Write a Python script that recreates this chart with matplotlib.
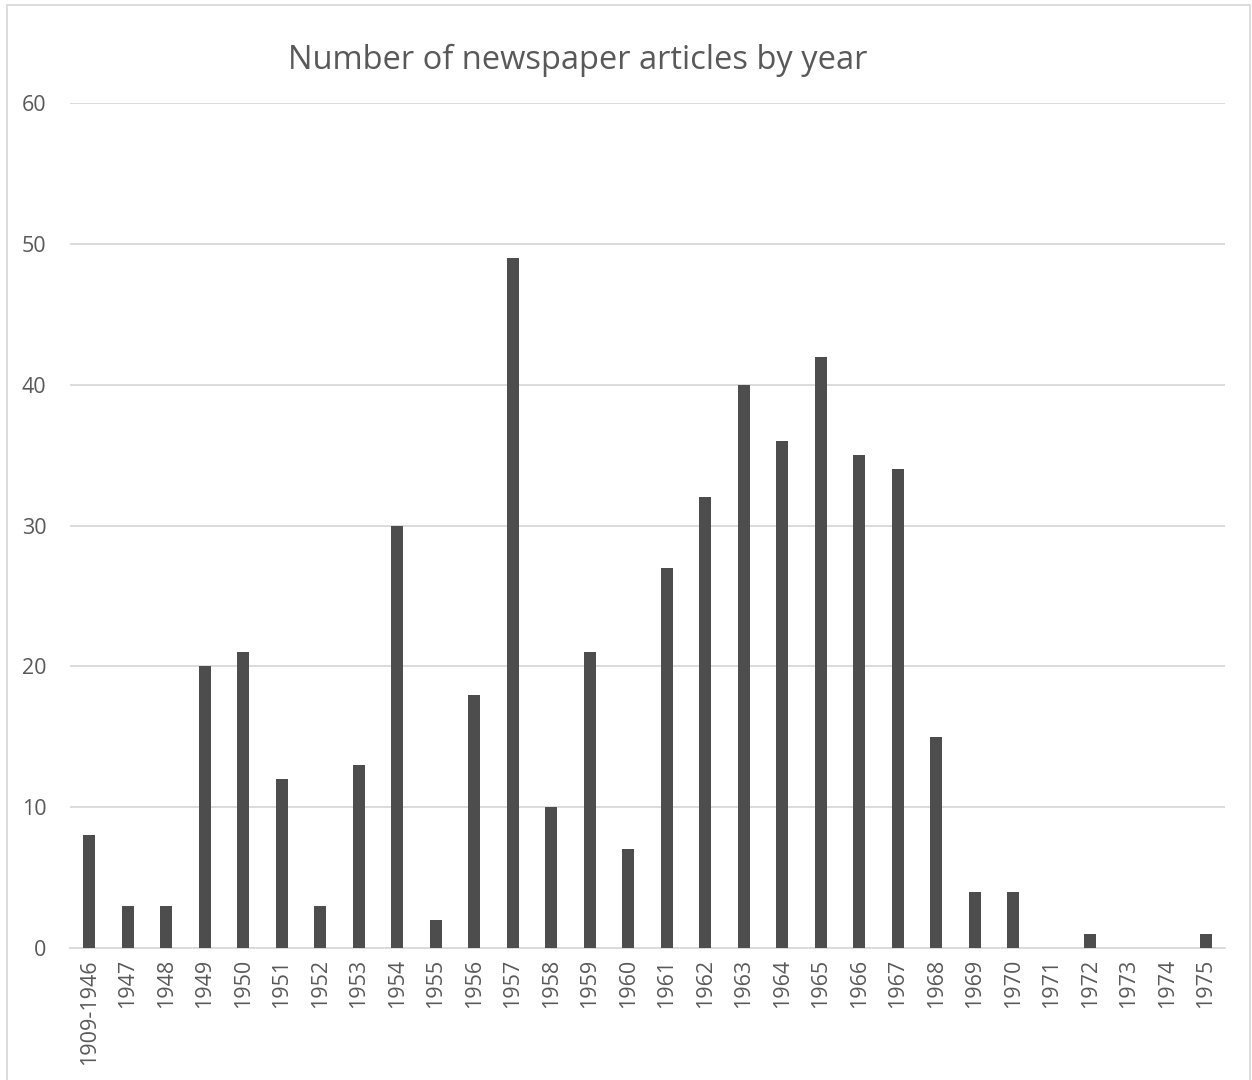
import matplotlib.pyplot as plt
from matplotlib.patches import Rectangle

plt.rcParams['font.family'] = ['Open Sans', 'DejaVu Sans']

# Dados
anos = ['1909-1946', '1947', '1948', '1949', '1950', '1951', '1952', '1953',
        '1954', '1955', '1956', '1957', '1958', '1959', '1960', '1961', '1962',
        '1963', '1964', '1965', '1966', '1967', '1968', '1969', '1970', '1971',
        '1972', '1973', '1974', '1975']
artigos = [8, 3, 3, 20, 21, 12, 3, 13, 30, 2, 18, 49, 10, 21, 7, 27, 32,
           40, 36, 42, 35, 34, 15, 4, 4, 0, 1, 0, 0, 1]
yticks = [0, 10, 20, 30, 40, 50, 60]

fig = plt.figure(figsize=(12.52, 10.8), dpi=100)
ax = fig.add_axes([70 / 1252, 1 - 948 / 1080, 1155 / 1252, 845 / 1080])

x = range(len(anos))
ax.bar(x, artigos, width=0.31, color='#4d4d4d', zorder=3)

ax.set_xlim(-0.5, len(anos) - 0.5)
ax.set_ylim(0, 60)
ax.set_yticks(yticks)
ax.set_xticks(list(x))
ax.set_xticklabels(anos, rotation=90, fontsize=15.5, color='#595959')
ax.tick_params(axis='y', labelsize=15.5, labelcolor='#595959', length=0, pad=17)
ax.tick_params(axis='x', length=0, pad=8)
ax.grid(axis='y', color='#d9d9d9', linewidth=1.3, zorder=0)
for s in ['top', 'right', 'left']:
    ax.spines[s].set_visible(False)
ax.spines['bottom'].set_color('#d9d9d9')
ax.spines['bottom'].set_linewidth(1.3)

fig.text(578 / 1252, 1 - 60 / 1080, 'Number of newspaper articles by year',
         ha='center', va='center', fontsize=23.5, color='#595959')

# Moldura do gráfico
fig.patches.append(Rectangle((7 / 1252, -0.01), 1243 / 1252, 1.01 - 5 / 1080,
                             transform=fig.transFigure, fill=False,
                             edgecolor='#d9d9d9', linewidth=1.3))

plt.savefig('out.png', dpi=100)
plt.close()
